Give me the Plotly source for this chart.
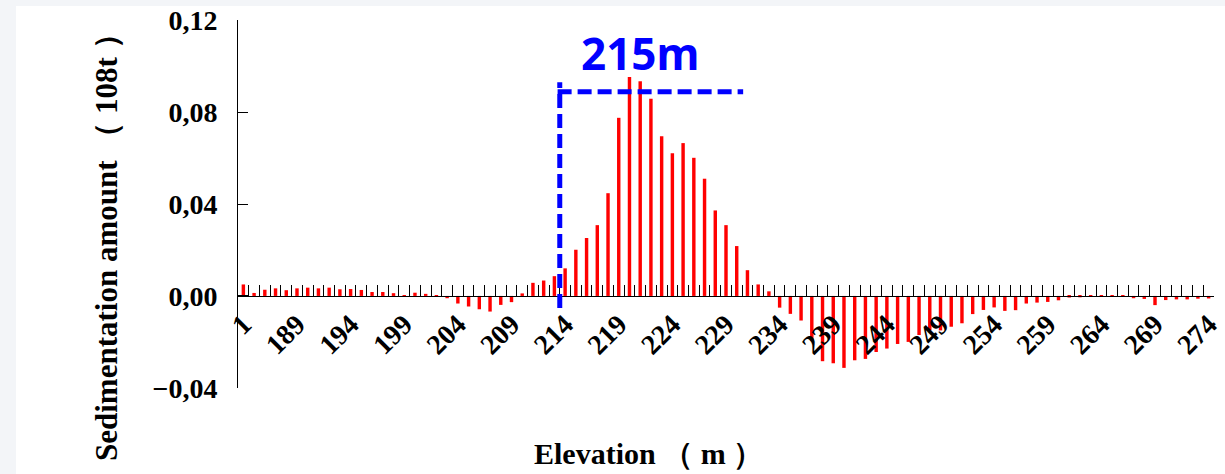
import plotly.graph_objects as go

# Elevation bins (first bin is labelled "1", then 185 m ... 274 m)
elevations = ["1"] + [str(e) for e in range(185, 275)]

# Sedimentation amount per elevation bin (10^8 t); negative = erosion
sediment = [
    0.0050, 0.0013, 0.0027, 0.0033, 0.0025, 0.0033, 0.0036, 0.0033, 0.0036, 0.0029,
    0.0030, 0.0026, 0.0017, 0.0017, 0.0012, 0.0004, 0.0014, 0.0009, 0.0004, -0.0010,
    -0.0033, -0.0046, -0.0058, -0.0068, -0.0039, -0.0027, 0.0011, 0.0057, 0.0067, 0.0086,
    0.0120, 0.0201, 0.0252, 0.0308, 0.0447, 0.0775, 0.0953, 0.0934, 0.0858, 0.0695,
    0.0621, 0.0665, 0.0601, 0.0510, 0.0372, 0.0308, 0.0217, 0.0112, 0.0050, 0.0020,
    -0.0051, -0.0078, -0.0107, -0.0195, -0.0284, -0.0293, -0.0313, -0.0280, -0.0274, -0.0244,
    -0.0229, -0.0209, -0.0200, -0.0170, -0.0150, -0.0150, -0.0134, -0.0119, -0.0079, -0.0061,
    -0.0050, -0.0065, -0.0062, -0.0033, -0.0029, -0.0026, -0.0019, -0.0007, -0.0006, -0.0004,
    -0.0003, -0.0003, -0.0001, -0.0010, -0.0013, -0.0040, -0.0018, -0.0015, -0.0015, -0.0012,
    -0.0011,
]

# Every fifth bin carries a label
tick_labels = [e if i % 5 == 0 else "" for i, e in enumerate(elevations)]

y_ticks = [-0.04, 0.0, 0.04, 0.08, 0.12]
# a hair of padding so the end ticks are still drawn
y_range = [-0.04006, 0.12006]

marker_text = "215m"

SERIF = "Times New Roman, Liberation Serif, serif"

fig = go.Figure()
fig.add_trace(go.Bar(
    x=elevations,
    y=sediment,
    marker=dict(color="#ff0000", line=dict(width=0)),
    showlegend=False,
))

W, H = 1225, 474
ml, mr, mt, mb = 238, 11, 20, 86
pw, ph = W - ml - mr, H - mt - mb

# fraction of the y domain where the value 0 sits -> x axis crosses there
zero_frac = (0 - y_range[0]) / (y_range[1] - y_range[0])

fig.update_layout(
    width=W, height=H,
    margin=dict(l=ml, r=mr, t=mt, b=mb, pad=0, autoexpand=False),
    paper_bgcolor="#f3f5f8",
    plot_bgcolor="white",
    bargap=0.68,
    separators=",.",
    xaxis=dict(
        type="category",
        automargin=False,
        anchor="free",
        position=zero_frac,
        tickmode="array",
        tickvals=elevations,
        ticktext=tick_labels,
        tickson="boundaries",
        ticks="inside",
        ticklen=11,
        tickwidth=1,
        tickcolor="black",
        tickangle=-45,
        showline=True,
        linecolor="black",
        linewidth=1,
        showgrid=False,
        zeroline=False,
        tickfont=dict(family=SERIF, size=28, color="black", weight="bold"),
    ),
    yaxis=dict(
        automargin=False,
        range=y_range,
        tickmode="array",
        tickvals=y_ticks,
        tickformat=".2f",
        ticks="inside",
        ticklen=10,
        tickwidth=1.2,
        tickcolor="black",
        ticklabelstandoff=14,
        showline=True,
        linecolor="black",
        linewidth=1,
        showgrid=False,
        zeroline=False,
        tickfont=dict(family=SERIF, size=28, color="black", weight="bold"),
    ),
)

def px_x(p):
    return (p - ml) / pw

def px_y(p):
    return (H - mb - p) / ph

# white card behind the chart, leaving a thin tinted strip at top and left
fig.add_shape(type="rect", xref="paper", yref="paper",
              x0=px_x(16), x1=px_x(W + 5), y0=px_y(H + 5), y1=px_y(6),
              fillcolor="white", line=dict(width=0), layer="below")

# dashed blue marker lines
fig.add_shape(type="line", xref="x", yref="y",
              x0=29.5, x1=29.5, y0=-0.0052, y1=0.093,
              line=dict(color="#0000ff", width=5, dash="14px,6px"))
fig.add_shape(type="line", xref="x", yref="y",
              x0=29.3, x1=46.6, y0=0.0888, y1=0.0888,
              line=dict(color="#0000ff", width=5, dash="14px,6px"))

fig.add_annotation(text=f"<b>{marker_text}</b>", xref="x", yref="y",
                   x=37.0, y=0.1055, showarrow=False,
                   font=dict(family="Noto Sans, Noto Sans CJK SC, sans-serif", size=44, color="#0000ff"),
                   xanchor="center", yanchor="middle")

# axis titles
fig.add_annotation(text="<b>Sedimentation amount （ 108t ）</b>", xref="paper", yref="paper",
                   x=px_x(106), y=px_y(240), textangle=-90, showarrow=False,
                   font=dict(family=SERIF, size=31, color="black"),
                   xanchor="center", yanchor="middle")
fig.add_annotation(text="<b>Elevation （ m ）</b>", xref="paper", yref="paper",
                   x=px_x(648), y=px_y(453), showarrow=False,
                   font=dict(family=SERIF, size=30, color="black"),
                   xanchor="center", yanchor="middle")

fig.write_html("out.html")
